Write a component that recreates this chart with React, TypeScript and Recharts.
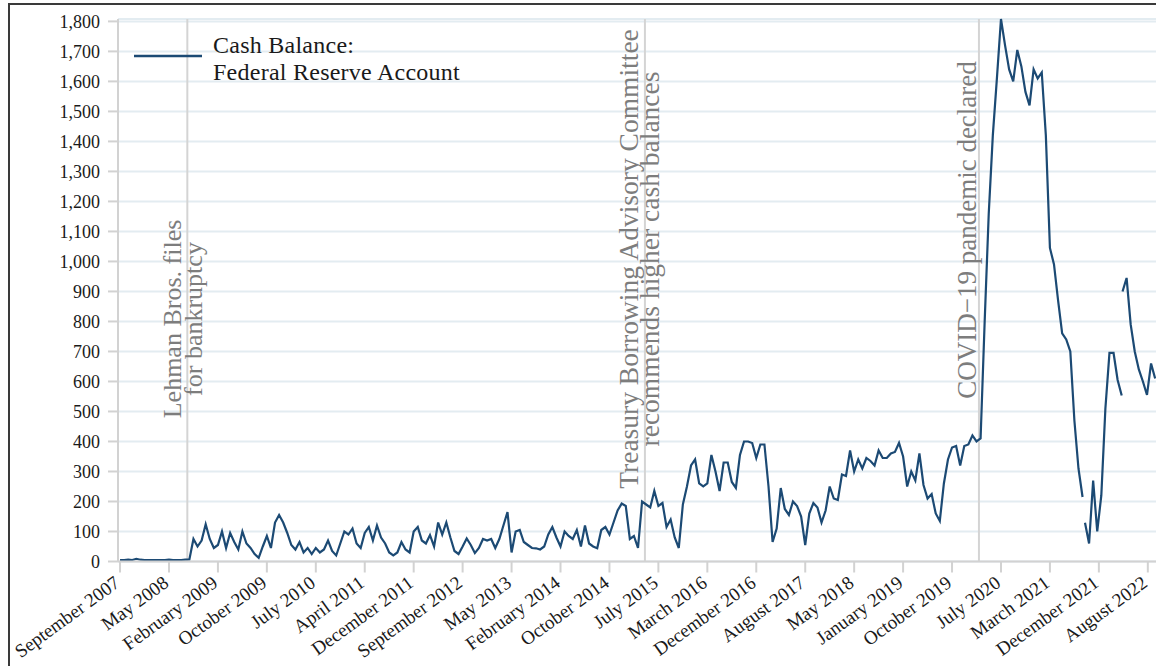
import React from 'react';
import { LineChart, Line, XAxis, YAxis, CartesianGrid, ReferenceLine, Legend } from 'recharts';

const FONT = "'Liberation Serif', 'Times New Roman', serif";
const LINE_COLOR = '#1c4a74';

// x tick labels, one every 12 sample steps
const tickLabels = [
  'September 2007', 'May 2008', 'February 2009', 'October 2009', 'July 2010', 'April 2011',
  'December 2011', 'September 2012', 'May 2013', 'February 2014', 'October 2014', 'July 2015',
  'March 2016', 'December 2016', 'August 2017', 'May 2018', 'January 2019', 'October 2019',
  'July 2020', 'March 2021', 'December 2021', 'August 2022',
];
const stepsPerTick = 12;
const yTicks = [0, 100, 200, 300, 400, 500, 600, 700, 800, 900, 1000, 1100, 1200, 1300, 1400, 1500, 1600, 1700, 1800];

// Cash balance (billions), sampled at equal steps
const segment1Start = 0;
const segment1Values = [
  5, 5, 6, 5, 9, 6, 5, 5, 5, 5, 5, 5, 6, 5, 5, 5, 6, 7,
  75, 50, 70, 124, 75, 45, 55, 100, 45, 95, 65, 40, 100, 60, 45, 25, 12, 50, 85, 45, 130, 155, 130, 95, 55, 40, 65,
  30, 45, 25, 45, 30, 40, 70, 35, 20, 60, 100, 90, 110, 60, 45, 95, 115, 70, 120, 80, 60, 30, 20,
  30, 65, 40, 30, 100, 115, 70, 60, 88, 50, 130, 90, 130, 80, 35, 25, 50, 77, 55, 28, 45, 75, 70, 75, 45, 75,
  120, 165, 30, 100, 105, 65, 55, 45, 44, 40, 50, 90, 115, 80, 50, 100, 85, 75, 105, 50, 120, 60, 50, 44,
  105, 115, 90, 130, 170, 193, 185, 75, 85, 45, 200, 190, 180, 235, 185, 195, 115, 140, 80, 45,
  190, 250, 320, 340, 260, 250, 260, 355, 300, 235, 330, 330, 265, 245, 355, 400, 400, 395, 345, 390, 390, 250,
  65, 110, 245, 175, 155, 200, 185, 150, 55, 160, 195, 180, 130, 170, 250, 210, 205, 290, 285, 370, 300, 340,
  310, 345, 335, 320, 370, 345, 345, 360, 365, 395, 350, 250, 300, 270, 360, 255, 210, 225, 160, 135, 260, 340,
  380, 385, 320, 385, 390, 420, 400, 410,
  800, 1160, 1420, 1610, 1808, 1720, 1640, 1600, 1705, 1650, 1565, 1520, 1640, 1610, 1630, 1420,
  1045, 990, 870, 760, 740, 700, 470, 310, 215,
];
const segment2Start = 236.6;
const segment2Values = [129, 60, 270, 100, 220, 510, 695, 695, 605, 553];
const segment3Start = 245.8;
const segment3Values = [900, 945, 790, 700, 640, 600, 555, 660, 610];

// events (x position in sample steps) and their labels
const eventPositions = [16.5, 128.7, 210.6];
const eventLabels = [
  ['Lehman Bros. files', 'for bankruptcy'],
  ['Treasury Borrowing Advisory Committee', 'recommends higher cash balances'],
  ['COVID\u221219 pandemic declared'],
];
const legendLines = ['Cash Balance:', 'Federal Reserve Account'];

const toPoints = (start: number, values: number[]) => values.map((v, i) => ({ x: start + i, v }));
const seg1 = toPoints(segment1Start, segment1Values);
const seg2 = toPoints(segment2Start, segment2Values);
const seg3 = toPoints(segment3Start, segment3Values);

const eventLabelStyle = [
  { dx: -6, cy: 319, size: 26 },
  { dx: -7, cy: 259, size: 27.5 },
  { dx: -2.5, cy: 230, size: 27 },
];

const XTick = (props: any) => {
  const { x, y, payload } = props;
  const label = tickLabels[Math.round(payload.value / stepsPerTick)];
  return (
    <g transform={`translate(${x + 1},${y + 11})`}>
      <text transform="rotate(-36)" textAnchor="end" fontFamily={FONT} fontSize={19} fill="#1a1a1a">
        {label}
      </text>
    </g>
  );
};

const makeEventLabel = (idx: number) => (p: any) => {
  const vx = p.viewBox ? p.viewBox.x : 0;
  const st = eventLabelStyle[idx];
  return (
    <text
      transform={`translate(${vx + st.dx},${st.cy}) rotate(-90)`}
      textAnchor="middle"
      fontFamily={FONT}
      fontSize={st.size}
      fill="#7d7d7d"
    >
      {eventLabels[idx].map((l, i) => (
        <tspan key={i} x={0} y={i * 21}>{l}</tspan>
      ))}
    </text>
  );
};

const LegendContent = () => (
  <div style={{ display: 'flex', alignItems: 'flex-start', fontFamily: FONT, fontSize: 24, letterSpacing: '0.25px', lineHeight: '27px', color: '#1a1a1a' }}>
    <svg width={70} height={10} style={{ marginTop: 19, display: 'block' }}>
      <line x1={1} y1={5} x2={69} y2={5} stroke={LINE_COLOR} strokeWidth={2.5} />
    </svg>
    <div style={{ marginLeft: 10, whiteSpace: 'nowrap' }}>
      {legendLines.map((l, i) => (
        <div key={i}>{l}</div>
      ))}
    </div>
  </div>
);

export default function App() {
  return (
    <div style={{ position: 'absolute', left: 0, top: 0, width: 1156, height: 666, overflow: 'hidden', background: '#fff' }}>
      <LineChart width={1160} height={666} margin={{ top: 19, right: 2, bottom: 0, left: 0 }}>
        <CartesianGrid vertical={false} stroke="#e3ecf1" strokeWidth={2} />
        <XAxis
          dataKey="x"
          type="number"
          domain={[-0.5, 254.5]}
          allowDataOverflow
          ticks={tickLabels.map((_, i) => i * stepsPerTick)}
          interval={0}
          tick={<XTick />}
          tickSize={11}
          height={104.5}
          axisLine={{ stroke: '#d2d2d2', strokeWidth: 2 }}
          tickLine={{ stroke: '#d2d2d2', strokeWidth: 2 }}
        />
        <YAxis
          type="number"
          domain={[0, 1800]}
          ticks={yTicks}
          interval={0}
          width={118}
          tickSize={10}
          tickMargin={8}
          tickFormatter={(v: number) => v.toLocaleString('en-US')}
          tick={{ fontFamily: FONT, fontSize: 18, fill: '#1a1a1a' }}
          axisLine={{ stroke: '#d2d2d2', strokeWidth: 2 }}
          tickLine={{ stroke: '#d2d2d2', strokeWidth: 2 }}
        />
        {eventPositions.map((ex, i) => (
          <ReferenceLine key={i} x={ex} stroke="#d4d4d4" strokeWidth={2} label={makeEventLabel(i)} ifOverflow="visible" />
        ))}
        <Legend
          layout="vertical"
          align="center"
          verticalAlign="middle"
          content={<LegendContent />}
          wrapperStyle={{ position: 'absolute', left: 133, top: 32, width: 'auto', height: 'auto', margin: 0 }}
        />
        <Line data={seg1} dataKey="v" type="linear" stroke={LINE_COLOR} strokeWidth={2.2} dot={false} isAnimationActive={false} name="Cash Balance" />
        <Line data={seg2} dataKey="v" type="linear" stroke={LINE_COLOR} strokeWidth={2.2} dot={false} isAnimationActive={false} legendType="none" />
        <Line data={seg3} dataKey="v" type="linear" stroke={LINE_COLOR} strokeWidth={2.2} dot={false} isAnimationActive={false} legendType="none" />
      </LineChart>
      <div style={{ position: 'absolute', left: 8, top: 3, width: 1200, height: 700, borderLeft: '2px solid #3a3a3a', borderTop: '2px solid #3a3a3a', pointerEvents: 'none' }} />
    </div>
  );
}
